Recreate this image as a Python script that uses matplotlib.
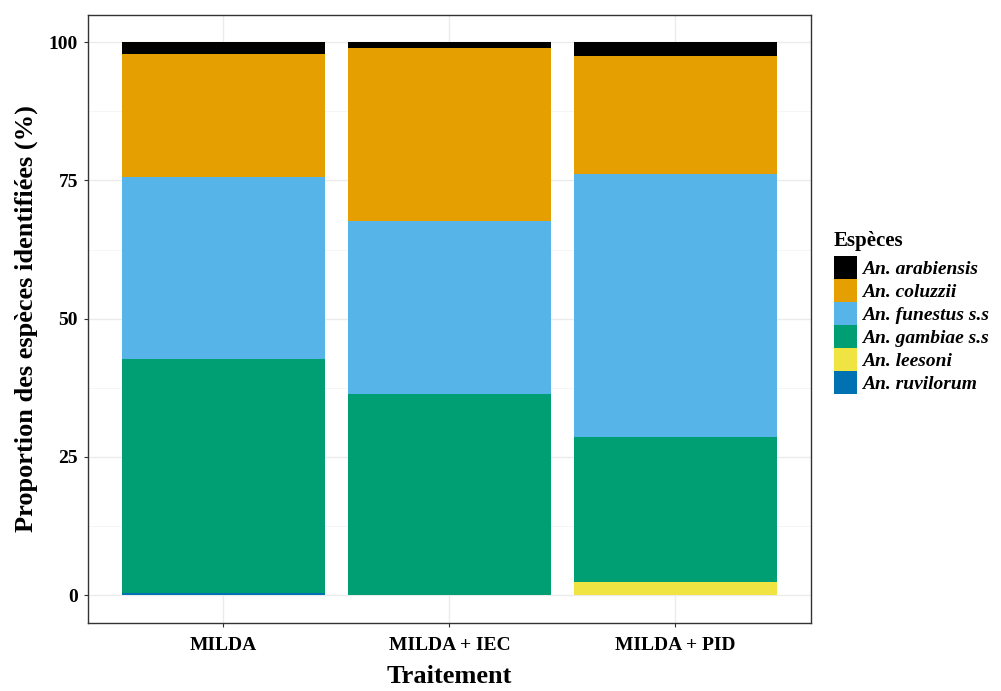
import numpy as np
import matplotlib
matplotlib.use("Agg")
import matplotlib.pyplot as plt
from matplotlib.patches import Patch

## Data (percent of identified species per treatment)
traitements = ["MILDA", "MILDA + IEC", "MILDA + PID"]
especes = ["An. arabiensis", "An. coluzzii", "An. funestus s.s",
           "An. gambiae s.s", "An. leesoni", "An. ruvilorum"]
arabiensis = [2.1, 1.0, 2.5]
coluzzii = [22.3, 31.4, 21.3]
funestus = [32.9, 31.2, 47.6]
gambiae = [42.4, 36.4, 26.2]
leesoni = [0.0, 0.0, 2.4]
ruvilorum = [0.3, 0.0, 0.0]

couleurs = ["#000000", "#E69F00", "#56B4E9", "#009E73", "#F0E442", "#0072B2"]

plt.rcParams['font.family'] = ['Liberation Serif', 'DejaVu Serif']

fig = plt.figure(figsize=(10.01, 6.91), dpi=100)
ax = fig.add_axes([0.0876, 0.0988, 0.7226, 0.880])

x = np.arange(1, len(traitements) + 1)
# stack from the bottom: ruvilorum first, arabiensis on top
series = [ruvilorum, leesoni, gambiae, funestus, coluzzii, arabiensis]
cols = couleurs[::-1]
bottom = np.zeros(len(x))
for vals, c in zip(series, cols):
    ax.bar(x, vals, width=0.9, bottom=bottom, color=c, zorder=2, linewidth=0)
    bottom += np.array(vals)

ax.set_xlim(0.4, 3.6)
ax.set_ylim(-5, 105)
ax.set_yticks([0, 25, 50, 75, 100])
ax.set_yticks([12.5, 37.5, 62.5, 87.5], minor=True)
ax.set_xticks(x)
ax.set_xticklabels(traitements, fontweight='bold', fontsize=14)
for lab in ax.get_yticklabels():
    lab.set_fontweight('bold')
    lab.set_fontsize(14)

ax.grid(True, which='major', color='#EBEBEB', linewidth=1.0, zorder=0)
ax.grid(True, which='minor', axis='y', color='#F4F4F4', linewidth=0.6, zorder=0)
ax.tick_params(axis='y', which='major', length=3, color='#333333', pad=4)
ax.tick_params(axis='x', which='major', length=3, color='#333333', pad=7)
ax.tick_params(axis='both', which='minor', length=0)
for sp in ax.spines.values():
    sp.set_color('#333333')
    sp.set_linewidth(1.0)

ax.set_xlabel("Traitement", fontweight='bold', fontsize=19, labelpad=8)
ax.set_ylabel("Proportion des espèces identifiées (%)", fontweight='bold',
              fontsize=19, labelpad=8)

handles = [Patch(facecolor=c, edgecolor='none') for c in couleurs]
leg = fig.legend(handles, especes, loc='upper left', bbox_to_anchor=(0.833, 0.665),
                 frameon=False, title="Espèces", handlelength=1.21, handleheight=1.45,
                 handletextpad=0.25, labelspacing=0.0, borderaxespad=0,
                 borderpad=0,
                 prop={'weight': 'bold', 'style': 'italic', 'size': 14})
leg.get_title().set_fontweight('bold')
leg.get_title().set_fontsize(15)
leg._legend_box.align = "left"
leg._legend_box.sep = 3

fig.savefig("out.png", dpi=100)
